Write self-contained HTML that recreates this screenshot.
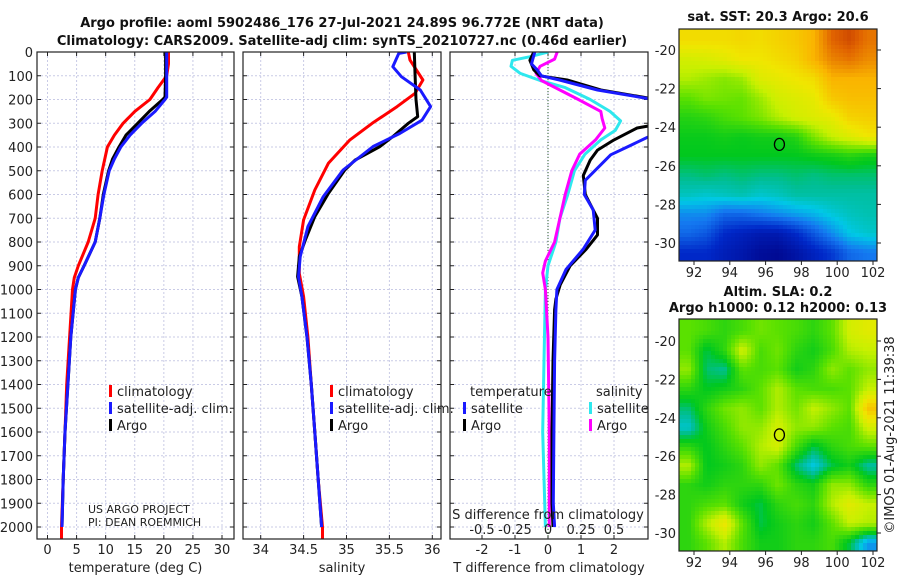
<!DOCTYPE html>
<html><head><meta charset="utf-8">
<style>
body{margin:0;background:#fff;}
svg{display:block;font-family:"DejaVu Sans","Liberation Sans",sans-serif;}
.t{font-size:13px;fill:#222;}
.b{font-size:13px;font-weight:bold;fill:#111;}
</style></head>
<body>
<svg id="fig" width="900" height="580" viewBox="0 0 900 580">
<g>
<text class="b" x="342" y="27" text-anchor="middle">Argo profile: aoml 5902486_176 27-Jul-2021 24.89S 96.772E (NRT data)</text>
<text class="b" x="342" y="45" text-anchor="middle">Climatology: CARS2009. Satellite-adj clim: synTS_20210727.nc (0.46d earlier)</text>
</g>
<text class="b" x="778" y="21" text-anchor="middle">sat. SST: 20.3 Argo: 20.6</text>
<text class="b" x="778" y="296" text-anchor="middle">Altim. SLA: 0.2</text>
<text class="b" x="778" y="312" text-anchor="middle">Argo h1000: 0.12 h2000: 0.13</text>
<text class="t" x="0" y="0" transform="translate(894,435) rotate(-90)" text-anchor="middle">©IMOS 01-Aug-2021 11:39:38</text>
<g id="plots"></g>
</svg>
<script>
// ---------- data ----------
const climTDepth=[0,50,100,150,200,250,300,350,400,500,600,700,800,900,950,1000,1200,1400,1600,1800,2000,2060];
const climT=[20.8,20.8,20.5,19,17.6,15,13,11.5,10.3,9.4,8.7,8.2,7,5.3,4.6,4.3,3.8,3.3,3.0,2.7,2.4,2.4];
const argoTDepth=[0,100,190,200,250,300,350,400,450,500,600,700,800,900,950,1000,1200,1400,1600,1800,2000];
const argoT=[20.3,20.3,20.2,19.8,17.5,15.5,13.5,12.3,11.2,10.5,9.6,9.0,8.2,6.3,5.3,4.8,4.0,3.5,3.0,2.7,2.5];
const satT=[20.5,20.5,20.5,20.2,18.5,16.2,14.2,12.6,11.5,10.6,9.7,9.0,8.2,6.3,5.3,4.8,4.0,3.5,3.0,2.7,2.5];
const climSDepth=[0,34,118,174,230,300,370,468,581,707,820,932,1030,1200,1400,1600,1800,2000,2060];
const climS=[35.72,35.74,35.89,35.8,35.59,35.3,35.04,34.79,34.63,34.5,34.45,34.45,34.5,34.55,34.59,34.63,34.67,34.72,34.72];
const argoSDepth=[0,100,200,272,300,356,398,455,497,595,693,792,862,946,1030,1200,1400,1600,1800,2000];
const argoS=[35.79,35.8,35.81,35.83,35.72,35.54,35.39,35.1,34.98,34.79,34.63,34.52,34.45,34.43,34.48,34.54,34.59,34.63,34.67,34.71];
const satSDepth=[0,6,62,104,160,230,287,343,398,497,609,735,862,946,1030,1200,1400,1600,1800,2000];
const satS=[35.7,35.61,35.54,35.64,35.86,35.98,35.88,35.62,35.31,34.96,34.73,34.55,34.46,34.44,34.48,34.54,34.59,34.63,34.67,34.71];
const argoDTDepth=[0,35,75,100,118,160,200,250,300,320,370,413,455,520,600,700,770,830,900,980,1040,1085,1300,1600,1900,2000];
const argoDT=[-0.43,-0.55,-0.43,-0.25,0.58,1.6,3.3,4.5,3.5,2.7,2.0,1.5,1.28,1.07,1.13,1.5,1.5,1.16,0.67,0.37,0.24,0.2,0.15,0.12,0.12,0.15];
const satDTDepth=[0,50,75,100,118,160,200,250,300,360,400,433,540,600,665,750,830,915,1000,1085,1300,1600,1900,2000];
const satDT=[-0.4,-0.5,-0.33,-0.2,0.35,1.5,3.2,4.8,4.2,3.0,2.4,1.9,1.13,1.1,1.37,1.43,1.07,0.55,0.27,0.24,0.2,0.18,0.16,0.2];
const satDSDepth=[0,20,35,60,90,120,150,200,250,290,330,370,430,500,600,700,800,900,1000,1300,1600,2000];
const satDS=[0,-0.14,-0.27,-0.28,-0.21,-0.06,0.13,0.32,0.47,0.55,0.51,0.4,0.28,0.2,0.15,0.09,0.06,0,-0.02,-0.03,-0.04,-0.02];
const argoDSDepth=[0,30,60,90,120,160,200,250,280,320,370,430,500,600,700,800,880,930,1000,1200,1600,2000];
const argoDS=[0.07,0.05,-0.06,-0.09,-0.05,0.09,0.23,0.4,0.41,0.43,0.36,0.24,0.18,0.13,0.09,0.05,-0.02,-0.04,-0.02,0,0.01,0.01];
const depthTicks=[0,100,200,300,400,500,600,700,800,900,1000,1100,1200,1300,1400,1500,1600,1700,1800,1900,2000];
const tTicks=[0,5,10,15,20,25,30];
const sTicks=[34,34.5,35,35.5,36];
const dtTicks=[-2,-1,0,1,2];
const dsTicks=[-0.5,-0.25,0,0.25,0.5];
const dsTickLabels=["-0.5","-0.25","0","0.25","0.5"];
const latTicks=[-20,-22,-24,-26,-28,-30];
const lonTicks=[92,94,96,98,100,102];
const argoLon=96.772, argoLat=-24.89;
// SST (colour index 0..1), rows lat -19.5..-30.5, cols lon 91.7..101.7
const sstGrid=[
[.72,.72,.72,.73,.72,.74,.76,.80,.90,.93,.88],
[.64,.65,.67,.70,.70,.72,.74,.80,.86,.88,.85],
[.60,.58,.56,.58,.66,.68,.70,.72,.80,.80,.80],
[.52,.55,.54,.53,.58,.64,.66,.68,.76,.78,.78],
[.46,.47,.50,.52,.55,.60,.64,.66,.68,.74,.75],
[.43,.43,.44,.43,.44,.44,.46,.55,.62,.66,.70],
[.42,.42,.42,.42,.42,.42,.42,.43,.44,.46,.44],
[.37,.38,.37,.38,.37,.37,.38,.37,.38,.38,.38],
[.33,.32,.33,.34,.32,.33,.35,.35,.35,.35,.35],
[.24,.24,.20,.20,.22,.24,.26,.28,.31,.33,.34],
[.20,.18,.12,.10,.08,.08,.12,.18,.24,.30,.32],
[.12,.12,.09,.07,.04,.03,.06,.10,.14,.20,.22]];
const slaGrid=[
[.52,.50,.47,.50,.54,.52,.50,.47,.52,.64,.67],
[.52,.40,.47,.64,.50,.54,.47,.44,.50,.60,.62],
[.57,.38,.36,.52,.50,.52,.44,.47,.57,.52,.57],
[.47,.42,.44,.47,.52,.60,.52,.50,.50,.52,.62],
[.38,.47,.54,.57,.52,.60,.54,.62,.57,.52,.77],
[.32,.44,.50,.57,.57,.64,.57,.57,.52,.50,.64],
[.47,.42,.47,.52,.60,.64,.50,.40,.47,.50,.52],
[.60,.42,.44,.47,.57,.52,.38,.30,.40,.44,.35],
[.47,.44,.47,.47,.47,.54,.47,.44,.57,.57,.47],
[.47,.50,.52,.44,.40,.47,.50,.47,.60,.67,.62],
[.47,.60,.70,.52,.40,.44,.47,.44,.52,.62,.60],
[.47,.52,.60,.50,.44,.44,.47,.47,.50,.40,.25]];

// ---------- helpers ----------
const NS="http://www.w3.org/2000/svg";
const root=document.getElementById('plots');
function mk(tag,attrs,parent){const e=document.createElementNS(NS,tag);for(const k in attrs)e.setAttribute(k,attrs[k]);(parent||root).appendChild(e);return e;}
const TOP=52,BOT=539;
const yD=d=>TOP+d*0.2375;
function lin(v0,p0,v1,p1){return v=>p0+(v-v0)*(p1-p0)/(v1-v0);}
const xT=lin(0,47.5,30,222);
const xS=lin(34,260.7,36,432.3);
const xDT=lin(0,548,2,614);
const xDS=lin(0,548,0.5,614);

function panel(name,x0,x1,ticks,xf,labels,showY,title){
  const g=mk('g',{});
  
  
  ticks.forEach(t=>{const l=mk('line',{x1:xf(t),x2:xf(t),y1:TOP,y2:BOT,stroke:'#c9cbe6','stroke-width':1,'stroke-dasharray':'2,2'},g);});
  depthTicks.forEach(d=>{const l=mk('line',{x1:x0,x2:x1,y1:yD(d),y2:yD(d),stroke:'#c9cbe6','stroke-width':1,'stroke-dasharray':'2,2'},g);
    mk('line',{x1:x0,x2:x0+4,y1:yD(d),y2:yD(d),stroke:'#222'},g);mk('line',{x1:x1-4,x2:x1,y1:yD(d),y2:yD(d),stroke:'#222'},g);
    if(showY){const tx=mk('text',{x:x0-4,y:yD(d)+5,'text-anchor':'end',class:'t'},g);tx.textContent=d;}});
  ticks.forEach((t,i)=>{mk('line',{x1:xf(t),x2:xf(t),y1:BOT,y2:BOT-4,stroke:'#222'},g);mk('line',{x1:xf(t),x2:xf(t),y1:TOP,y2:TOP+4,stroke:'#222'},g);
    const tx=mk('text',{x:xf(t),y:554,'text-anchor':'middle',class:'t'},g);tx.textContent=labels?labels[i]:t;});
  const tt=mk('text',{x:(x0+x1)/2,y:572,'text-anchor':'middle',class:'t'},g);tt.textContent=title;
  
  
  return g;
}
function frame(g,x0,x1){const r=mk('rect',{x:x0,y:TOP,width:x1-x0,height:BOT-TOP,fill:'none',stroke:'#222','stroke-width':1.2},g);}
function line(g,depths,vals,xf,color,name,clip){
  const pts=depths.map((d,i)=>xf(vals[i]).toFixed(1)+','+yD(d).toFixed(1)).join(' ');
  const p=mk('polyline',{points:pts,fill:'none',stroke:color,'stroke-width':3,'stroke-linejoin':'round'},g);
  if(clip)p.setAttribute('clip-path',clip);
  
  
}
function legend(g,x,y,items){items.forEach((it,i)=>{const yy=y+i*17;mk('rect',{x:x,y:yy-11,width:3,height:12,fill:it[1]},g);
  const tx=mk('text',{x:x+8,y:yy,class:'t'},g);tx.textContent=it[0];});}

const defs=mk('defs',{});
[['c1',37,234],['c2',243,441],['c3',450,648]].forEach(c=>{const cp=mk('clipPath',{id:c[0]},defs);mk('rect',{x:c[1],y:TOP,width:c[2]-c[1],height:BOT-TOP},cp);});

// panel 1 temperature
const g1=panel('temperature-panel',37,234,tTicks,xT,null,true,'temperature (deg C)');
line(g1,climTDepth,climT,xT,'#f00','climatology-temperature-line','url(#c1)');
line(g1,argoTDepth,argoT,xT,'#000','argo-temperature-line','url(#c1)');
line(g1,argoTDepth,satT,xT,'#1a1aff','satellite-temperature-line','url(#c1)');
legend(g1,109,396,[['climatology','#f00'],['satellite-adj. clim.','#1a1aff'],['Argo','#000']]);
const n1=mk('text',{x:88,y:513,style:'font-size:11px',fill:'#222'},g1);n1.textContent='US ARGO PROJECT';
const n2=mk('text',{x:88,y:526,style:'font-size:11px',fill:'#222'},g1);n2.textContent='PI: DEAN ROEMMICH';
frame(g1,37,234);

// panel 2 salinity
const g2=panel('salinity-panel',243,441,sTicks,xS,null,false,'salinity');
line(g2,climSDepth,climS,xS,'#f00','climatology-salinity-line','url(#c2)');
line(g2,argoSDepth,argoS,xS,'#000','argo-salinity-line','url(#c2)');
line(g2,satSDepth,satS,xS,'#1a1aff','satellite-salinity-line','url(#c2)');
legend(g2,330,396,[['climatology','#f00'],['satellite-adj. clim.','#1a1aff'],['Argo','#000']]);
frame(g2,243,441);

// panel 3 differences
const g3=panel('difference-panel',450,648,dtTicks,xDT,null,false,'T difference from climatology');
mk('line',{x1:xDT(0),x2:xDT(0),y1:TOP,y2:BOT,stroke:'#2a5a2a','stroke-width':1,'stroke-dasharray':'1,2'},g3);
line(g3,satDSDepth,satDS,xDS,'#2ee8ee','satellite-salinity-diff-line','url(#c3)');
line(g3,argoDSDepth,argoDS,xDS,'#f0f','argo-salinity-diff-line','url(#c3)');
line(g3,argoDTDepth,argoDT,xDT,'#000','argo-temperature-diff-line','url(#c3)');
line(g3,satDTDepth,satDT,xDT,'#1a1aff','satellite-temperature-diff-line','url(#c3)');
const lt=mk('text',{x:470,y:396,class:'t'},g3);lt.textContent='temperature';
const ls=mk('text',{x:596,y:396,class:'t'},g3);ls.textContent='salinity';
legend(g3,463,413,[['satellite','#1a1aff'],['Argo','#000']]);
legend(g3,589,413,[['satellite','#2ee8ee'],['Argo','#f0f']]);
const st=mk('text',{x:548,y:519,'text-anchor':'middle',class:'t'},g3);st.textContent='S difference from climatology';


dsTicks.forEach((t,i)=>{const tx=mk('text',{x:xDS(t),y:534,'text-anchor':'middle',class:'t'},g3);tx.textContent=dsTickLabels[i];
  
  });
frame(g3,450,648);

// ---------- maps ----------
const stops=[[0,[0,0,130]],[.12,[0,40,200]],[.22,[20,120,240]],[.3,[0,200,230]],[.36,[0,190,150]],[.42,[0,200,30]],[.52,[90,225,0]],[.62,[200,240,0]],[.7,[240,230,0]],[.8,[250,180,0]],[.9,[225,100,0]],[1,[170,20,0]]];
function cmap(v){v=Math.max(0,Math.min(1,v));for(let i=1;i<stops.length;i++){if(v<=stops[i][0]){const a=stops[i-1],b=stops[i],f=(v-a[0])/(b[0]-a[0]);return 'rgb('+a[1].map((c,k)=>Math.round(c+(b[1][k]-c)*f)).join(',')+')';}}return 'rgb(170,20,0)';}
function sample(grid,r,c){const R=grid.length,C=grid[0].length;r=Math.max(0,Math.min(R-1,r));c=Math.max(0,Math.min(C-1,c));const r0=Math.floor(r),c0=Math.floor(c),r1=Math.min(R-1,r0+1),c1=Math.min(C-1,c0+1),fr=r-r0,fc=c-c0;
  return grid[r0][c0]*(1-fr)*(1-fc)+grid[r0][c1]*(1-fr)*fc+grid[r1][c0]*fr*(1-fc)+grid[r1][c1]*fr*fc;}
function map(name,top,bot,lat20y,lat30y,grid){
  const L=679,Rr=877;
  const xL=lin(92,694,102,873), yL=lin(-20,lat20y,-30,lat30y);
  const g=mk('g',{});
  
  
  const cs=4;
  for(let y=top;y<bot;y+=cs){for(let x=L;x<Rr;x+=cs){
    const lon=92+(x+cs/2-694)*10/(873-694), lat=-20-(y+cs/2-lat20y)*10/(lat30y-lat20y);
    const r=(-19.5-lat), c=(lon-91.7);
    const cell=mk('rect',{x:x,y:y,width:Math.min(cs+0.5,Rr-x),height:Math.min(cs+0.5,bot-y),fill:cmap(sample(grid,r,c))},g);
    
    
  }}
  mk('rect',{x:L,y:top,width:Rr-L,height:bot-top,fill:'none',stroke:'#222','stroke-width':1.2},g);
  latTicks.forEach(t=>{mk('line',{x1:Rr,x2:Rr+4,y1:yL(t),y2:yL(t),stroke:'#222'},g);
    const tx=mk('text',{x:676,y:yL(t)+5,'text-anchor':'end',class:'t'},g);tx.textContent=t;
    
    });
  lonTicks.forEach(t=>{mk('line',{x1:xL(t),x2:xL(t),y1:bot,y2:bot+4,stroke:'#222'},g);
    const tx=mk('text',{x:xL(t),y:bot+16,'text-anchor':'middle',class:'t'},g);tx.textContent=t;
    
    });
  const m=mk('ellipse',{cx:xL(argoLon),cy:yL(argoLat),rx:5,ry:6,fill:'none',stroke:'#000','stroke-width':1.3},g);
  
  
}
map('sst-map',29,261,50,243,sstGrid);
map('sla-map',319,551,341,533,slaGrid);
</script>
</body></html>
